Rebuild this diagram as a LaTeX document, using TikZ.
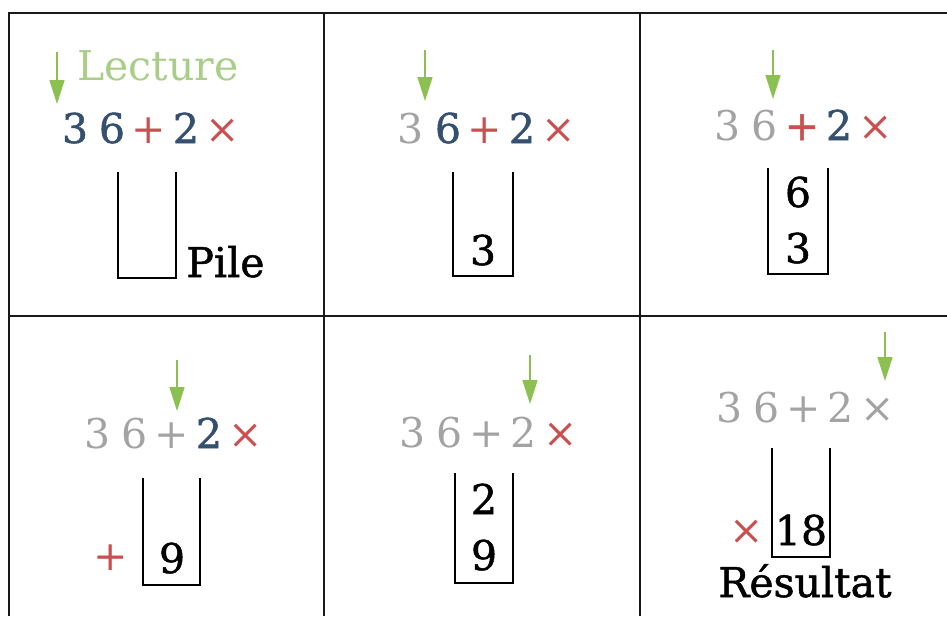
\documentclass[tikz,border=0pt]{standalone}
\usepackage{fontspec}
\setmainfont{DejaVu Serif}
\newfontfamily\grasfont{DejaVu Serif}[FakeBold=1.2]
\usetikzlibrary{arrows.meta}

\definecolor{bleu}{HTML}{34506E}
\definecolor{rouge}{HTML}{C9504F}
\definecolor{vert}{HTML}{8CC152}
\definecolor{vertclair}{HTML}{A8CE88}
\definecolor{gris}{HTML}{A3A3A3}

\begin{document}
\begin{tikzpicture}[x=0.5pt,y=-0.5pt,
    every node/.style={font=\fontsize{20.5}{24}\selectfont, inner sep=0pt},
    jeton/.style={anchor=base},
    contenu/.style={anchor=base, font=\fontsize{20.5}{24}\selectfont\grasfont},
    pile/.style={line width=1.4pt, black},
    grille/.style={line width=1.1pt, black!90},
    fleche/.style={vert, line width=0.8pt, -{Triangle[length=12pt,width=7.5pt]}}]

        \useasboundingbox (0,0) rectangle (947,616);

        % ==================================================
        % Grid (right and bottom borders cut off)
        % ==================================================
        \draw[grille] (947,13) -- (9,13) -- (9,616);
        \draw[grille] (324,13) -- (324,616);
        \draw[grille] (640,13) -- (640,616);
        \draw[grille] (9,316) -- (947,316);

        % ==================================================
        % Cell 1: empty stack, reading starts
        % ==================================================
        \coordinate (h1) at (57,52);
        \coordinate (b1) at (57,104);
        \draw[fleche] (h1) -- (b1);
        \node[jeton, anchor=base west, text=vertclair] (lecture) at (77,80) {Lecture};
        \node[contenu, text=bleu] (a1) at (75,143) {3};
        \node[contenu, text=bleu] (a2) at (112,143) {6};
        \node[jeton, text=rouge] (a3) at (149,143) {+};
        \node[contenu, text=bleu] (a4) at (186,143) {2};
        \node[jeton, text=rouge] (a5) at (223,143) {×};
        %    stack
        \draw[pile] (118,172) |- (176,278) -- (176,172);
        \node[contenu, anchor=base west] (pilelabel) at (186,277) {Pile};

        % ==================================================
        % Cell 2: push 3
        % ==================================================
        \coordinate (h2) at (425,50);
        \coordinate (b2) at (425,101);
        \draw[fleche] (h2) -- (b2);
        \node[jeton, text=gris] (b1t) at (411,143) {3};
        \node[contenu, text=bleu] (b2t) at (448,143) {6};
        \node[jeton, text=rouge] (b3t) at (485,143) {+};
        \node[contenu, text=bleu] (b4t) at (522,143) {2};
        \node[jeton, text=rouge] (b5t) at (559,143) {×};
        \draw[pile] (453,172) |- (513,276) -- (513,172);
        \node[contenu] (p2a) at (483,265) {3};

        % ==================================================
        % Cell 3: push 6
        % ==================================================
        \coordinate (h3) at (773,50);
        \coordinate (b3) at (773,99);
        \draw[fleche] (h3) -- (b3);
        \node[jeton, text=gris] (c1t) at (728,140) {3};
        \node[jeton, text=gris] (c2t) at (765,140) {6};
        \node[contenu, text=rouge] (c3t) at (802,140) {+};
        \node[contenu, text=bleu] (c4t) at (839,140) {2};
        \node[jeton, text=rouge] (c5t) at (876,140) {×};
        \draw[pile] (768,168) |- (828,274) -- (828,168);
        \node[contenu] (p3a) at (798,207) {6};
        \node[contenu] (p3b) at (798,263) {3};

        % ==================================================
        % Cell 4: + pops 6 and 3, pushes 9
        % ==================================================
        \coordinate (h4) at (177,360);
        \coordinate (b4) at (177,411);
        \draw[fleche] (h4) -- (b4);
        \node[jeton, text=gris] (d1t) at (98,448) {3};
        \node[jeton, text=gris] (d2t) at (135,448) {6};
        \node[jeton, text=gris] (d3t) at (172,448) {+};
        \node[contenu, text=bleu] (d4t) at (209,448) {2};
        \node[jeton, text=rouge] (d5t) at (246,448) {×};
        \draw[pile] (143,478) |- (200,585) -- (200,478);
        \node[contenu] (p4a) at (172,573) {9};
        \node[text=rouge] (op4) at (111,558) {+};

        % ==================================================
        % Cell 5: push 2
        % ==================================================
        \coordinate (h5) at (530,355);
        \coordinate (b5) at (530,404);
        \draw[fleche] (h5) -- (b5);
        \node[jeton, text=gris] (e1t) at (413,447) {3};
        \node[jeton, text=gris] (e2t) at (450,447) {6};
        \node[jeton, text=gris] (e3t) at (487,447) {+};
        \node[jeton, text=gris] (e4t) at (524,447) {2};
        \node[jeton, text=rouge] (e5t) at (561,447) {×};
        \draw[pile] (455,473) |- (513,583) -- (513,473);
        \node[contenu] (p5a) at (484,514) {2};
        \node[contenu] (p5b) at (484,570) {9};

        % ==================================================
        % Cell 6: × pops 2 and 9, result 18
        % ==================================================
        \coordinate (h6) at (885,332);
        \coordinate (b6) at (885,381);
        \draw[fleche] (h6) -- (b6);
        \node[jeton, text=gris] (f1t) at (730,422) {3};
        \node[jeton, text=gris] (f2t) at (767,422) {6};
        \node[jeton, text=gris] (f3t) at (804,422) {+};
        \node[jeton, text=gris] (f4t) at (841,422) {2};
        \node[jeton, text=gris] (f5t) at (878,422) {×};
        \draw[pile] (772,448) |- (830,557) -- (830,448);
        \node[contenu] (p6a) at (801,545) {18};
        \node[text=rouge] (op6) at (747,532) {×};
        \node[contenu] (resultat) at (805,597) {Résultat};

\end{tikzpicture}
\end{document}
